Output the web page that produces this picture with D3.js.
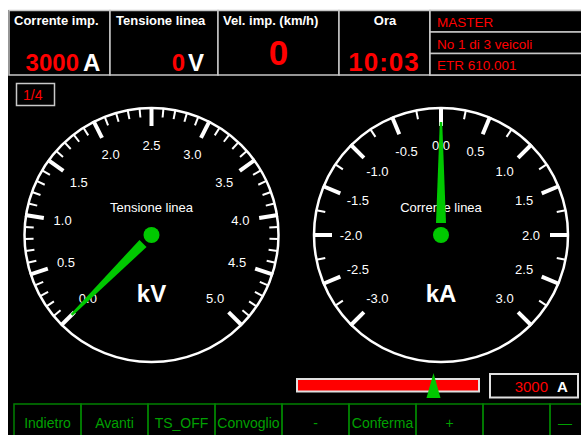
<!DOCTYPE html>
<html lang="it">
<head>
<meta charset="UTF-8">
<title>Cruscotto</title>
<script src="https://cdn.jsdelivr.net/npm/d3@7"></script>
<style>
  body { margin: 0; background: #fff; }
  svg { display: block; font-family: "Liberation Sans", Arial, sans-serif; }
</style>
</head>
<body>
<script>
const w = 581
const h = 435

// header
const headerTitles = ["Corrente imp.", "Tensione linea", "Vel. imp. (km/h)", "Ora"]
const headerValues = ["3000", "0", "0", "10:03"]
const headerUnits = ["A", "V", "", ""]
const infoLines = ["MASTER", "No 1 di 3 veicoli", "ETR 610.001"]
const pageLabel = "1/4"

// gauges
const gaugeNames = ["Tensione linea", "Corrente linea"]
const gaugeUnits = ["kV", "kA"]
const gaugeDomains = [[0, 5], [-3, 3]]
const gaugeMajorSteps = [0.5, 0.5]
const gaugeMinorSteps = [0.1, 0.25]
const gaugeValues = [0, 0]

// bottom bar + buttons
const barDomain = [0, 4000]
const barValue = 3000
const barText = "3000"
const barUnit = "A"
const buttonLabels = ["Indietro", "Avanti", "TS_OFF", "Convoglio", "-", "Conferma", "+", "", "\u2014"]

const grey = "#c8c8c8"
const red = "#ff0000"
const green = "#00c800"

const svg = d3.select("body").append("svg").attr("width", w).attr("height", h)

svg.append("rect").attr("width", w).attr("height", h).attr("fill", "#fff")
svg.append("rect").attr("x", 8).attr("y", 10).attr("width", w - 8).attr("height", h - 10).attr("fill", "#000")

//Header cells
const colX = [9, 110, 218, 339, 430, 583]
const headTop = 10.5, headBottom = 75
svg.selectAll(".cell").data(colX.slice(0, -1)).join("rect")
    .attr("x", (d) => d).attr("y", headTop)
    .attr("width", (d, i) => colX[i + 1] - d).attr("height", headBottom - headTop)
    .attr("fill", "#000").attr("stroke", grey).attr("stroke-width", 1.5)

const titleX = [14, 116, 223, 385]
svg.selectAll(".htitle").data(headerTitles).join("text")
    .attr("x", (d, i) => titleX[i]).attr("y", 25)
    .attr("text-anchor", (d, i) => i == 3 ? "middle" : "start")
    .attr("fill", "#fff").attr("font-weight", "bold").attr("font-size", "13px")
    .text((d) => d)

// values with units
const valueEnd = [79, 185]
const unitStart = [83, 188]
headerValues.forEach((v, i) => {
    if (i < 2) {
        svg.append("text").attr("x", valueEnd[i]).attr("y", 71).attr("text-anchor", "end")
            .attr("fill", red).attr("font-weight", "bold").attr("font-size", "24px").text(v)
        svg.append("text").attr("x", unitStart[i]).attr("y", 71)
            .attr("fill", "#fff").attr("font-weight", "bold").attr("font-size", "24px").text(headerUnits[i])
    }
})
svg.append("text").attr("x", 278.5).attr("y", 65).attr("text-anchor", "middle")
    .attr("fill", red).attr("font-weight", "bold").attr("font-size", "35px").text(headerValues[2])
svg.append("text").attr("x", 384).attr("y", 70.5).attr("text-anchor", "middle")
    .attr("fill", red).attr("font-weight", "bold").attr("font-size", "26px")
    .attr("letter-spacing", "1px").text(headerValues[3])

// info column
const rowY = [10.5, 32, 53.5, 75]
svg.selectAll(".irow").data(infoLines).join("rect")
    .attr("x", 430).attr("y", (d, i) => rowY[i]).attr("width", 153)
    .attr("height", (d, i) => rowY[i + 1] - rowY[i])
    .attr("fill", "#000").attr("stroke", grey).attr("stroke-width", 1.5)
svg.selectAll(".itext").data(infoLines).join("text")
    .attr("x", 437).attr("y", (d, i) => rowY[i + 1] - 5)
    .attr("fill", red).attr("font-size", "13.5px").text((d) => d)

// page box
svg.append("rect").attr("x", 16.5).attr("y", 83.5).attr("width", 38).attr("height", 22)
    .attr("fill", "none").attr("stroke", grey).attr("stroke-width", 1.5)
svg.append("text").attr("x", 23).attr("y", 100).attr("fill", red).attr("font-size", "14px").text(pageLabel)

//Gauges
const R = 127
const cy = 235
const gaugeX = [151.5, 441]

function drawGauge(i) {
    const g = svg.append("g").attr("transform", `translate(${gaugeX[i]},${cy})`)
    const angle = d3.scaleLinear().domain(gaugeDomains[i]).range([-135, 135])
    const rad = (d) => angle(d) * Math.PI / 180
    const [lo, hi] = gaugeDomains[i]
    const minor = d3.range(lo, hi + 1e-9, gaugeMinorSteps[i])
    const major = d3.range(lo, hi + 1e-9, gaugeMajorSteps[i])

    g.append("circle").attr("r", R).attr("fill", "none").attr("stroke", "#fff").attr("stroke-width", 2.5)

    g.selectAll(".minor").data(minor).join("line")
        .attr("x1", (d) => Math.sin(rad(d)) * (R - 9)).attr("y1", (d) => -Math.cos(rad(d)) * (R - 9))
        .attr("x2", (d) => Math.sin(rad(d)) * R).attr("y2", (d) => -Math.cos(rad(d)) * R)
        .attr("stroke", "#fff").attr("stroke-width", 2)

    g.selectAll(".major").data(major).join("line")
        .attr("x1", (d) => Math.sin(rad(d)) * (R - 18)).attr("y1", (d) => -Math.cos(rad(d)) * (R - 18))
        .attr("x2", (d) => Math.sin(rad(d)) * (R + 1)).attr("y2", (d) => -Math.cos(rad(d)) * (R + 1))
        .attr("stroke", "#fff").attr("stroke-width", 4)

    g.selectAll(".lbl").data(major).join("text")
        .attr("x", (d) => Math.sin(rad(d)) * 90).attr("y", (d) => -Math.cos(rad(d)) * 90 + 4.5)
        .attr("text-anchor", "middle").attr("fill", "#fff").attr("font-size", "13px")
        .text((d) => d.toFixed(1))

    g.append("text").attr("y", -23).attr("text-anchor", "middle")
        .attr("fill", "#fff").attr("font-size", "13px").text(gaugeNames[i])
    g.append("text").attr("y", 67).attr("text-anchor", "middle")
        .attr("fill", "#fff").attr("font-weight", "bold").attr("font-size", "24px").text(gaugeUnits[i])

    // needle
    g.append("polygon")
        .attr("points", "-5,-12 5,-12 1.2,-113 -1.2,-113")
        .attr("fill", green)
        .attr("transform", `rotate(${angle(gaugeValues[i])})`)
    g.append("circle").attr("r", 8).attr("fill", green)
}
gaugeValues.forEach((v, i) => drawGauge(i))

//Bottom bar
const barScale = d3.scaleLinear().domain(barDomain).range([297, 479])
svg.append("rect").attr("x", barScale(barDomain[0])).attr("y", 379)
    .attr("width", barScale(barDomain[1]) - barScale(barDomain[0])).attr("height", 12.5)
    .attr("fill", red).attr("stroke", "#e0e0e0").attr("stroke-width", 2)
const mx = barScale(barValue)
svg.append("polygon")
    .attr("points", `${mx},373 ${mx - 7},398 ${mx + 7},398`)
    .attr("fill", green)

svg.append("rect").attr("x", 490).attr("y", 374).attr("width", 88).attr("height", 23.5)
    .attr("fill", "#000").attr("stroke", "#e0e0e0").attr("stroke-width", 2)
svg.append("text").attr("x", 548).attr("y", 392).attr("text-anchor", "end")
    .attr("fill", red).attr("font-size", "15px").text(barText)
svg.append("text").attr("x", 557).attr("y", 392)
    .attr("fill", "#fff").attr("font-weight", "bold").attr("font-size", "15px").text(barUnit)

//Buttons
const bw = 67
svg.selectAll(".btn").data(buttonLabels).join("rect")
    .attr("x", (d, i) => 14 + i * bw).attr("y", 404).attr("width", bw).attr("height", 40)
    .attr("fill", "none").attr("stroke", "#008000").attr("stroke-width", 1.5)
svg.selectAll(".btxt").data(buttonLabels).join("text")
    .attr("x", (d, i) => i == 8 ? 565 : 14 + i * bw + bw / 2).attr("y", 428)
    .attr("text-anchor", "middle").attr("fill", "#00a000").attr("font-size", "14px")
    .text((d) => d)
</script>
</body>
</html>
